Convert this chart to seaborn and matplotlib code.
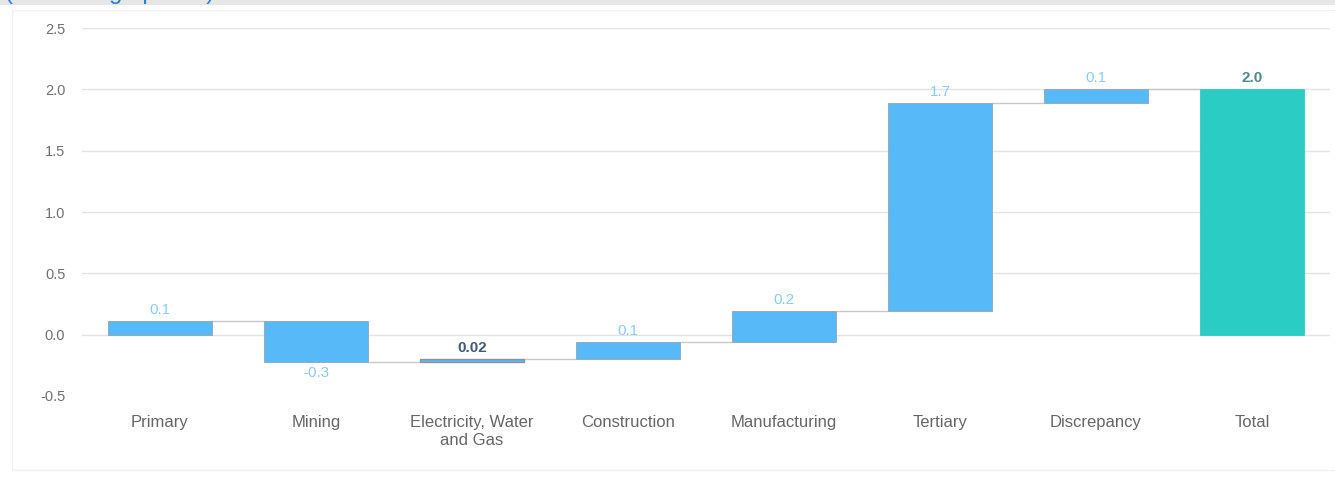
import matplotlib
matplotlib.use("Agg")
import matplotlib.pyplot as plt
from matplotlib.patches import Rectangle
import numpy as np
import pandas as pd
import seaborn as sns

# Contributions to growth by sector (percentage points)
categories = ["Primary", "Mining", "Electricity, Water\nand Gas", "Construction",
              "Manufacturing", "Tertiary", "Discrepancy", "Total"]
changes = [0.11, -0.33, 0.02, 0.14, 0.25, 1.70, 0.11]
total = 2.0
y_ticks = [-0.5, 0.0, 0.5, 1.0, 1.5, 2.0, 2.5]

BLUE = "#58b9f9"
TEAL = "#2bccc4"
GRID = "#e3e3e3"
TICK = "#666666"

sns.set_theme(style="white")
plt.rcParams["font.family"] = ["Liberation Sans", "DejaVu Sans"]

# Waterfall geometry: each step starts where the previous one ended
starts = np.concatenate([[0.0], np.cumsum(changes)[:-1]])
heights = np.array(changes + [total])
bottoms = np.concatenate([starts, [0.0]])
df = pd.DataFrame({"sector": categories, "height": heights, "bottom": bottoms})

fig = plt.figure(figsize=(13.35, 4.8), dpi=100)
ax = fig.add_axes([82 / 1335, 1 - 396 / 480, 1248 / 1335, 368 / 480])

sns.barplot(data=df, x="sector", y="height", bottom=df["bottom"].values,
            color=BLUE, saturation=1, width=0.667, ax=ax,
            edgecolor="#8fa6b8", linewidth=0.6, zorder=3)
bars = ax.patches
bars[-1].set_facecolor(TEAL)
bars[-1].set_edgecolor(TEAL)
# very thin steps read as their outline
for b, h in zip(bars, heights):
    if abs(h) < 0.05:
        b.set_edgecolor("#8a949c")
        b.set_linewidth(1.0)

ax.set_xlim(-0.5, len(categories) - 0.5)
ax.set_ylim(-0.5, 2.5)
ax.set_yticks(y_ticks)
ax.set_yticklabels([f"{t:.1f}" for t in y_ticks])
ax.set_xlabel("")
ax.set_ylabel("")
for s in ax.spines.values():
    s.set_visible(False)

# Horizontal gridlines (none on the lowest tick)
for t in y_ticks[1:]:
    ax.axhline(t, color=GRID, lw=1, zorder=0)

ax.tick_params(axis="x", length=0, pad=14, labelsize=12, labelcolor=TICK)
ax.tick_params(axis="y", length=0, pad=12, labelsize=10.5, labelcolor="#707070")
for lab in ax.get_xticklabels():
    lab.set_linespacing(1.2)
    lab.set_verticalalignment("top")

# Connectors between consecutive steps
ends = np.cumsum(changes)
half = 0.667 / 2
for i, level in enumerate(ends):
    ax.plot([i + half, i + 1 - half], [level, level], color="#c8c8c8",
            lw=1, zorder=2, solid_capstyle="butt")

# Value labels
def fmt(v):
    return f"{v:.2f}" if abs(v) < 0.05 else f"{v:.1f}"

for i, (h, b) in enumerate(zip(heights, bottoms)):
    top = max(b, b + h)
    low = min(b, b + h)
    if i == len(heights) - 1:
        color, weight = "#4d8a88", "bold"
    elif abs(h) < 0.05:
        color, weight = "#465a72", "bold"
    else:
        color, weight = "#8ccbf5", "normal"
    if h >= 0:
        ax.annotate(fmt(h), (i, top), xytext=(0, 8), textcoords="offset points",
                    ha="center", va="center", fontsize=11, color=color,
                    fontweight=weight, zorder=5)
    else:
        ax.annotate(fmt(h), (i, low), xytext=(0, -8), textcoords="offset points",
                    ha="center", va="center", fontsize=11, color=color,
                    fontweight=weight, zorder=5)

# Page chrome: grey strip with the units caption and a faint container frame
fig.patches.append(Rectangle((0, 1 - 5 / 480), 1, 5 / 480, transform=fig.transFigure,
                             facecolor="#e6e6e6", edgecolor="none", zorder=0))
fig.patches.append(Rectangle((12 / 1335, 10 / 480), 1 - 12 / 1335, 1 - 20 / 480,
                             transform=fig.transFigure, facecolor="none",
                             edgecolor="#f1f1f1", lw=1, zorder=0))
fig.text(5 / 1335, 1 + 0.5 / 480, "(Percentage points)", color="#2a7fd0",
         fontsize=17.3, ha="left", va="baseline")

fig.savefig("out.png", dpi=100, facecolor="white")
